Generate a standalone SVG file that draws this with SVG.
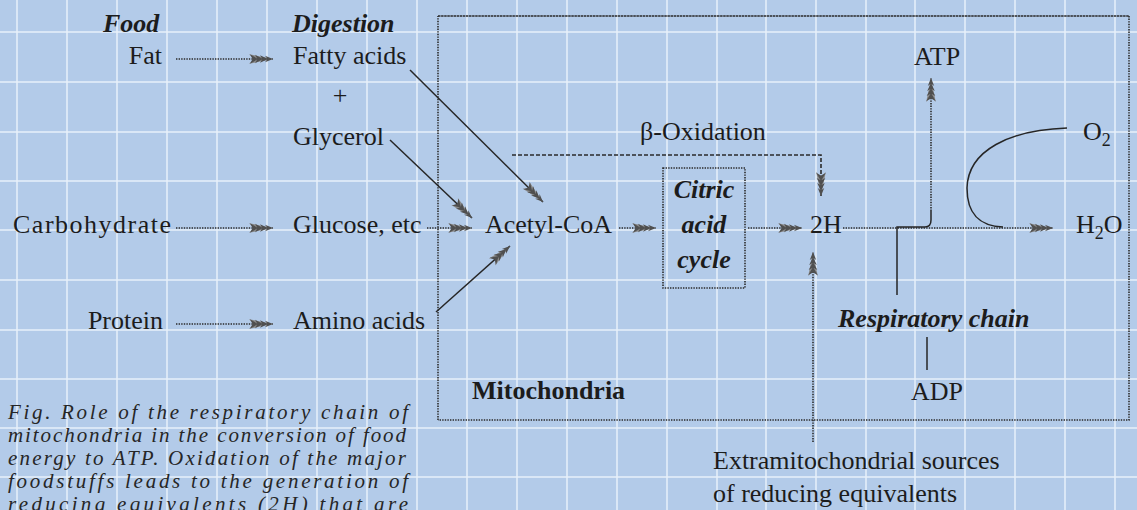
<svg xmlns="http://www.w3.org/2000/svg" width="1137" height="510" viewBox="0 0 1137 510">
<defs>
<style>
text{font-family:"Liberation Serif","Times New Roman",serif;font-size:26px;fill:#1c1c1c}
.bi{font-weight:bold;font-style:italic}
.b{font-weight:bold}
.cap{font-style:italic;font-size:21px;fill:#262626}
.dot{fill:none;stroke:#2b2b2b;stroke-width:1.6;stroke-dasharray:1.4 1.2}
.dash{fill:none;stroke:#2b2b2b;stroke-width:1.6;stroke-dasharray:4 2}
.sol{fill:none;stroke:#262626;stroke-width:1.5}
.grid{stroke:#e8f1fb;stroke-width:2;opacity:0.75}
</style>
<marker id="ah" viewBox="-26 -6 28 12" refX="0" refY="0" markerWidth="28" markerHeight="12" markerUnits="userSpaceOnUse" orient="auto">
<path d="M0,0 L-24,-4.8 L-19,0 L-24,4.8 Z" fill="#8a8a8a"/>
<path d="M0,0 L-8,-3.2 L-5.5,0 L-8,3.2 Z M-5,0 L-13,-3.8 L-10.5,0 L-13,3.8 Z M-10,0 L-18,-4.3 L-15.5,0 L-18,4.3 Z M-15,0 L-23,-4.7 L-20.5,0 L-23,4.7 Z" fill="#4f4f4f"/>
</marker>
</defs>
<rect x="0" y="0" width="1137" height="510" fill="#b3cbe9"/>
<g id="grid">
<path class="grid" d="M17,0V510M67,0V510M117,0V510M167,0V510M217,0V510M267,0V510M317,0V510M367,0V510M417,0V510M467,0V510M517,0V510M567,0V510M617,0V510M667,0V510M717,0V510M766,0V510M816,0V510M866,0V510M915,0V510M965,0V510M1015,0V510M1065,0V510M1115,0V510"/>
<path class="grid" d="M0,32H1137M0,82H1137M0,132H1137M0,181H1137M0,230H1137M0,280H1137M0,330H1137M0,379H1137M0,428H1137M0,477H1137"/>
</g>
<g id="mitochondria">
<path class="dot" d="M438,420 V16 M1129,16 V420 H438"/>
<path d="M438,16 H1129" fill="none" stroke="#2b2b2b" stroke-width="1.5" stroke-dasharray="2.5 0.6"/>
<text class="b" x="472" y="399">Mitochondria</text>
</g>
<g id="labels-header">
<text class="bi" x="103" y="32">Food</text>
<text class="bi" x="292" y="32">Digestion</text>
</g>
<g id="fat"><text x="162" y="64" text-anchor="end">Fat</text></g>
<g id="fatty-acids"><text x="293" y="64">Fatty acids</text></g>
<g id="plus"><text x="340" y="104" text-anchor="middle">+</text></g>
<g id="glycerol"><text x="293" y="145">Glycerol</text></g>
<g id="carbohydrate"><text x="13" y="233" font-size="27" textLength="158" lengthAdjust="spacing">Carbohydrate</text></g>
<g id="glucose"><text x="293" y="233">Glucose, etc</text></g>
<g id="protein"><text x="163" y="329" text-anchor="end">Protein</text></g>
<g id="amino-acids"><text x="293" y="329">Amino acids</text></g>
<g id="acetyl-coa"><text x="485" y="233">Acetyl-CoA</text></g>
<g id="citric-acid-cycle">
<rect x="663" y="168" width="82" height="120" class="dot"/>
<text class="bi" x="704" y="198" text-anchor="middle">Citric</text>
<text class="bi" x="704" y="233" text-anchor="middle">acid</text>
<text class="bi" x="704" y="268" text-anchor="middle">cycle</text>
</g>
<g id="beta-oxidation"><text x="640" y="140">β-Oxidation</text></g>
<g id="two-h"><text x="810" y="233">2H</text></g>
<g id="atp"><text x="937" y="65" text-anchor="middle">ATP</text></g>
<g id="o2"><text x="1083" y="140">O<tspan font-size="18" dy="6">2</tspan></text></g>
<g id="h2o"><text x="1076" y="233">H<tspan font-size="18" dy="6">2</tspan><tspan dy="-6">O</tspan></text></g>
<g id="respiratory-chain"><text class="bi" x="838" y="327">Respiratory chain</text></g>
<g id="adp"><text x="937" y="400" text-anchor="middle">ADP</text></g>
<g id="extramitochondrial">
<text x="713" y="469">Extramitochondrial sources</text>
<text x="713" y="502">of reducing equivalents</text>
</g>
<g id="connectors">
<path class="dot" d="M176,59 H273" marker-end="url(#ah)"/>
<path class="dot" d="M176,228 H273" marker-end="url(#ah)"/>
<path class="dot" d="M176,324 H273" marker-end="url(#ah)"/>
<path class="dot" d="M427,228 H472" marker-end="url(#ah)"/>
<path class="sol" d="M410,70 L543,202" marker-end="url(#ah)"/>
<path class="sol" d="M390,140 L472,218" marker-end="url(#ah)"/>
<path class="sol" d="M436,312 L510,246" marker-end="url(#ah)"/>
<path class="dot" d="M619,228 H656" marker-end="url(#ah)"/>
<path class="dot" d="M748,228 H802" marker-end="url(#ah)"/>
<path class="dash" d="M512,155 H821 V196" marker-end="url(#ah)"/>
<path class="dot" d="M813,442 V252" marker-end="url(#ah)"/>
<path class="dot" d="M843,228 H1053" marker-end="url(#ah)"/>
<path class="sol" d="M897,295 V227 H925 Q931,227 931,220 V211"/>
<path class="dot" d="M931,211 V78" marker-end="url(#ah)"/>
<path class="sol" d="M1067,128 C1010,130 968,150 967,188 C967,215 980,226 1003,227"/>
<path class="sol" d="M927,337 V370"/>
</g>
<g id="caption">
<text class="cap" x="8" y="419" textLength="400" lengthAdjust="spacing">Fig. Role of the respiratory chain of</text>
<text class="cap" x="8" y="442" textLength="398" lengthAdjust="spacing">mitochondria in the conversion of food</text>
<text class="cap" x="8" y="465" textLength="398" lengthAdjust="spacing">energy to ATP. Oxidation of the major</text>
<text class="cap" x="8" y="488" textLength="400" lengthAdjust="spacing">foodstuffs leads to the generation of</text>
<text class="cap" x="8" y="511" textLength="400" lengthAdjust="spacing">reducing equivalents (2H) that are</text>
</g>
</svg>
